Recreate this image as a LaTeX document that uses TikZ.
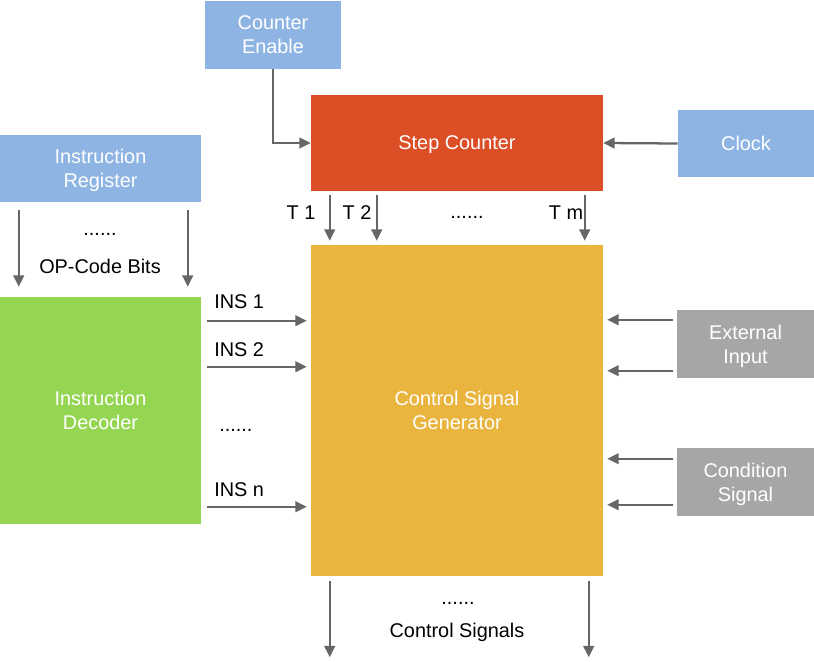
\documentclass[tikz,border=0pt]{standalone}
\usepackage{fontspec}
\setmainfont{Liberation Sans}
\usetikzlibrary{arrows.meta,calc}
\definecolor{cblue}{RGB}{142,180,227}
\definecolor{cred}{RGB}{220,78,38}
\definecolor{cgreen}{RGB}{148,213,82}
\definecolor{cyellow}{RGB}{233,181,62}
\definecolor{cgray}{RGB}{166,166,166}
\definecolor{carrow}{RGB}{102,102,102}
\def\pxu{0.75pt}
\begin{document}
\begin{tikzpicture}[x=0.75pt,y=-0.75pt,
  font=\fontsize{14.9pt}{18pt}\selectfont,
  blk/.style={draw=none,inner sep=0pt,text=white,align=center,text depth=0pt},
  lbl/.style={inner sep=0pt,text=black,align=center},
  arr/.style={draw=carrow,line width=1.7pt,-{Triangle[length=8.5pt,width=8pt]}}]
\useasboundingbox (0,0) rectangle (814,661);

% blocks
\node[blk,fill=cblue,minimum width={136*\pxu},minimum height={68*\pxu}] (ce) at (273,34.5) {Counter\\Enable};
\node[blk,fill=cred,minimum width={292*\pxu},minimum height={96*\pxu}] (sc) at (457,143) {Step Counter};
\node[blk,fill=cblue,minimum width={136*\pxu},minimum height={67*\pxu}] (clk) at (746,143.5) {Clock};
\node[blk,fill=cblue,minimum width={201*\pxu},minimum height={67*\pxu}] (ir) at (100.5,168.5) {Instruction\\Register};
\node[blk,fill=cgreen,minimum width={201*\pxu},minimum height={227*\pxu}] (id) at (100.5,410.5) {Instruction\\Decoder};
\node[blk,fill=cyellow,minimum width={292*\pxu},minimum height={331*\pxu}] (csg) at (457,410.5) {Control Signal\\Generator};
\node[blk,fill=cgray,minimum width={137*\pxu},minimum height={68*\pxu}] (ext) at (745.5,344) {External\\Input};
\node[blk,fill=cgray,minimum width={137*\pxu},minimum height={68*\pxu}] (cond) at (745.5,482) {Condition\\Signal};

% labels
\node[lbl] (t1) at (301,213) {T 1};
\node[lbl] (t2) at (357,213) {T 2};
\node[lbl] (tdots) at (467,217) {......};
\node[lbl] (tm) at (566,213) {T m};
\node[lbl] (opdots) at (100,234) {......};
\node[lbl] (op) at (100,266) {OP-Code Bits};
\node[lbl,anchor=west] (ins1) at (214,302) {INS 1};
\node[lbl,anchor=west] (ins2) at (214,350) {INS 2};
\node[lbl,anchor=west] (insdots) at (219,430) {......};
\node[lbl,anchor=west] (insn) at (214,490) {INS n};
\node[lbl] (csdots) at (458,603) {......};
\node[lbl] (cs) at (457,632) {Control Signals};

% connectors
\draw[arr] (ce.south) |- (sc.west);
\draw[arr] (clk.west) -- (sc.east);
\draw[arr] ($(sc.south west)+(19,4)$) -- ($(csg.north west)+(19,-4)$);
\draw[arr] ($(sc.south west)+(66,4)$) -- ($(csg.north west)+(66,-4)$);
\draw[arr] ($(sc.south west)+(274,4)$) -- ($(csg.north west)+(274,-4)$);
\draw[arr] ($(ir.south west)+(19,8)$) -- ($(id.north west)+(19,-10)$);
\draw[arr] ($(ir.south west)+(188,8)$) -- ($(id.north west)+(188,-10)$);
\draw[arr] ($(id.north east)+(6,24)$) -- ($(csg.north west)+(-4,76)$);
\draw[arr] ($(id.north east)+(6,70)$) -- ($(csg.north west)+(-4,122)$);
\draw[arr] ($(id.north east)+(6,210)$) -- ($(csg.north west)+(-4,262)$);
\draw[arr] ($(ext.north west)+(-4,10)$) -- ($(csg.north east)+(4,75)$);
\draw[arr] ($(ext.north west)+(-4,61)$) -- ($(csg.north east)+(4,126)$);
\draw[arr] ($(cond.north west)+(-4,11)$) -- ($(csg.north east)+(4,214)$);
\draw[arr] ($(cond.north west)+(-4,57)$) -- ($(csg.north east)+(4,260)$);
\draw[arr] ($(csg.south west)+(19,5)$) -- ($(csg.south west)+(19,81)$);
\draw[arr] ($(csg.south west)+(278,5)$) -- ($(csg.south west)+(278,81)$);
\end{tikzpicture}
\end{document}
